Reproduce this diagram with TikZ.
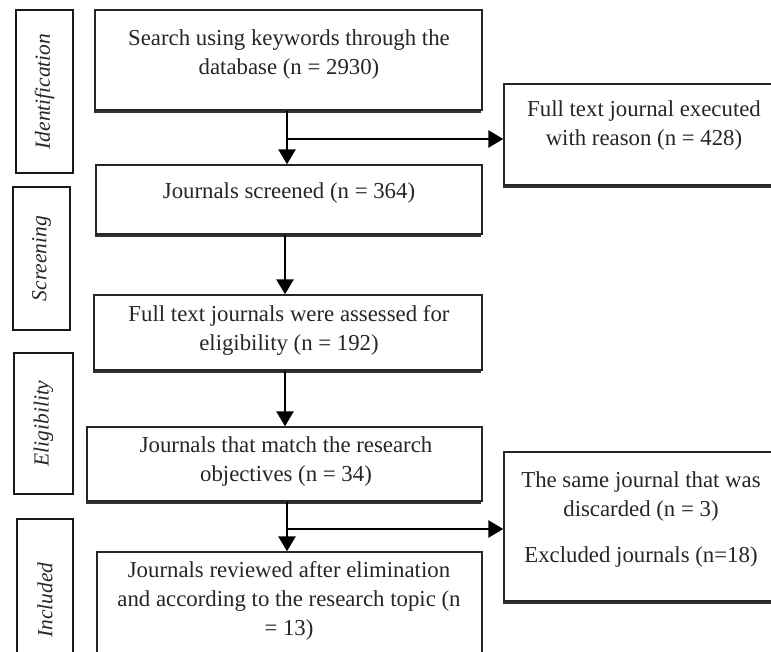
\documentclass[tikz,border=0pt]{standalone}
\usepackage{fontspec}
\setmainfont{Liberation Serif}
\usetikzlibrary{arrows.meta,shadows,fit}
\begin{document}
\begin{tikzpicture}[x=1pt,y=-1pt,
  box/.style={draw=black!85, line width=1.4pt, fill=white, inner sep=0pt,
    drop shadow={shadow xshift=-1.4pt, shadow yshift=-2.6pt, opacity=1, fill=black!80}},
  sidebox/.style={draw=black!90, line width=2.4pt, fill=white, inner sep=0pt},
  txt/.style={align=center, font=\fontsize{22.8}{29}\selectfont, text=black!85, inner sep=0pt},
  sidetxt/.style={rotate=90, font=\fontsize{21.5}{25}\selectfont\itshape, text=black!85, inner sep=0pt},
  arr/.style={line width=2.8pt, -{Triangle[width=17pt,length=15pt]}},
]
\useasboundingbox (0,0) rectangle (771,652);

% side labels
\node[sidebox, fit={(16,10) (73,173)}] (s1) {};
\node[sidetxt] at (s1.center) {Identification};
\node[sidebox, fit={(13,187) (70,330)}] (s2) {};
\node[sidetxt] at (s2.center) {Screening};
\node[sidebox, fit={(14,353) (73,494)}] (s3) {};
\node[sidetxt] at (s3.center) {Eligibility};
\node[sidebox, fit={(17,519) (73,665)}] (s4) {};
\node[sidetxt] at ([yshift=-8pt]s4.center) {Included};

% main boxes
\node[box, fit={(95,10) (482,110)}] (b1) {};
\node[txt] (t1) at (289,55) {Search using keywords through the\\database (n = 2930)};
\node[box, fit={(96,165) (482,234)}] (b2) {};
\node[txt] (t2) at (289,193) {Journals screened (n = 364)};
\node[box, fit={(94,295) (482,370)}] (b3) {};
\node[txt] (t3) at (289,330) {Full text journals were assessed for\\eligibility (n = 192)};
\node[box, fit={(87,427) (482,501)}] (b4) {};
\node[txt] (t4) at (286,462) {Journals that match the research\\objectives (n = 34)};
\node[box, fit={(97,552) (482,665)}] (b5) {};
\node[txt] (t5) at (289,601) {Journals reviewed after elimination\\and according to the research topic (n\\= 13)};

% right boxes
\node[box, fit={(504,84) (780,185)}] (r1) {};
\node[txt] (tr1) at (644,126) {Full text journal executed\\with reason (n = 428)};
\node[box, fit={(504,452) (780,601)}] (r2) {};
\node[txt] (tr2) at (641,497) {The same journal that was\\discarded (n = 3)};
\node[txt] (tr3) at (641,557) {Excluded journals (n=18)};

% connectors
\coordinate (j1) at (287,139);
\coordinate (j2) at (287,529);
\coordinate (ax) at (285,0);
\draw[arr] (j1 |- b1.south) -- (j1 |- b2.north);
\draw[arr] (j1) -- (j1 -| r1.west);
\draw[arr] (ax |- b2.south) -- (ax |- b3.north);
\draw[arr] (ax |- b3.south) -- (ax |- b4.north);
\draw[arr] (j2 |- b4.south) -- (j2 |- b5.north);
\draw[arr] (j2) -- (j2 -| r2.west);
\end{tikzpicture}
\end{document}
